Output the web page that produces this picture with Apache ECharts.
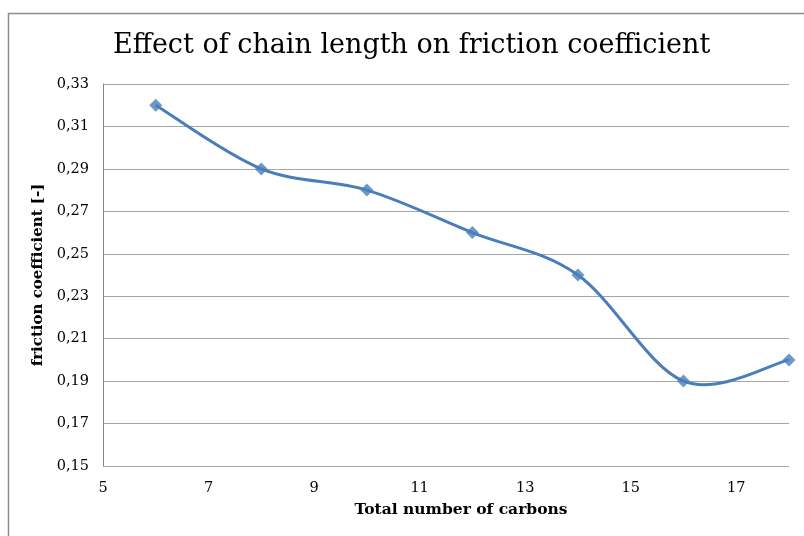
<!DOCTYPE html>
<html><head><meta charset="utf-8">
<script src="https://cdn.jsdelivr.net/npm/echarts@6/dist/echarts.min.js"></script>
<style>html,body{margin:0;padding:0;background:#fff}#c{width:804px;height:536px}</style>
</head><body><div id="c"></div>
<script>
const carbons = [6, 8, 10, 12, 14, 16, 18];
const friction = [0.32, 0.29, 0.28, 0.26, 0.24, 0.19, 0.20];
const titleText = 'Effect of chain length on friction coefficient';
const xName = 'Total number of carbons';
const yName = 'friction coefficient [-]';

const serif = '"DejaVu Serif", "Liberation Serif", serif';
const lineColor = '#4a7ebb';
const pts = carbons.map((c, i) => [c, friction[i]]);

// Excel-style smoothed line: Catmull-Rom segments drawn as cubic Beziers through the axis scales
function renderSegment(params, api) {
  const i = params.dataIndex;
  const n = pts.length;
  if (i >= n - 1) return null;
  const P = k => api.coord(pts[Math.max(0, Math.min(n - 1, k))]);
  const p0 = P(i - 1), p1 = P(i), p2 = P(i + 1), p3 = P(i + 2);
  const c1 = [p1[0] + (p2[0] - p0[0]) / 6, p1[1] + (p2[1] - p0[1]) / 6];
  const c2 = [p2[0] - (p3[0] - p1[0]) / 6, p2[1] - (p3[1] - p1[1]) / 6];
  return {
    type: 'bezierCurve',
    shape: {x1: p1[0], y1: p1[1], cpx1: c1[0], cpy1: c1[1], cpx2: c2[0], cpy2: c2[1], x2: p2[0], y2: p2[1]},
    style: {stroke: lineColor, lineWidth: 3, fill: 'none'}
  };
}

const chart = echarts.init(document.getElementById('c'));
chart.setOption({
  animation: false,
  backgroundColor: '#fff',
  graphic: [{type: 'rect', shape: {x: 8.5, y: 13.5, width: 900, height: 700}, style: {fill: 'none', stroke: '#8c8c8c', lineWidth: 1.5}, z: -1}],
  title: {text: titleText, left: 108, top: 27, textStyle: {fontFamily: serif, fontWeight: 'normal', fontSize: 27, color: '#000'}},
  grid: {left: 103, top: 84, right: 15, bottom: 70},
  xAxis: {
    type: 'value', min: 5, max: 18, interval: 2,
    name: xName, nameLocation: 'middle', nameGap: 36,
    nameTextStyle: {fontFamily: serif, fontWeight: 'bold', fontSize: 15.5, color: '#000', padding: [0, 0, 0, 30]},
    axisLine: {show: false}, axisTick: {show: false}, splitLine: {show: false},
    axisLabel: {showMaxLabel: false, margin: 15, fontFamily: serif, fontSize: 14.5, color: '#000'}
  },
  yAxis: {
    type: 'value', min: 0.15, max: 0.33, interval: 0.02,
    name: yName, nameLocation: 'middle', nameGap: 48,
    nameTextStyle: {fontFamily: serif, fontWeight: 'bold', fontSize: 15, color: '#000'},
    axisLine: {show: true, lineStyle: {color: '#868686', width: 1}},
    axisTick: {show: false},
    splitLine: {lineStyle: {color: '#a6a6a6', width: 1}},
    axisLabel: {margin: 14, fontFamily: serif, fontSize: 14.5, color: '#000',
      formatter: v => v.toFixed(2).replace('.', ',')}
  },
  series: [
    {type: 'custom', data: pts, renderItem: renderSegment, z: 2, silent: true},
    {type: 'scatter', data: pts, symbol: 'diamond', symbolSize: 13, itemStyle: {color: lineColor}, z: 3}
  ]
});
</script></body></html>
